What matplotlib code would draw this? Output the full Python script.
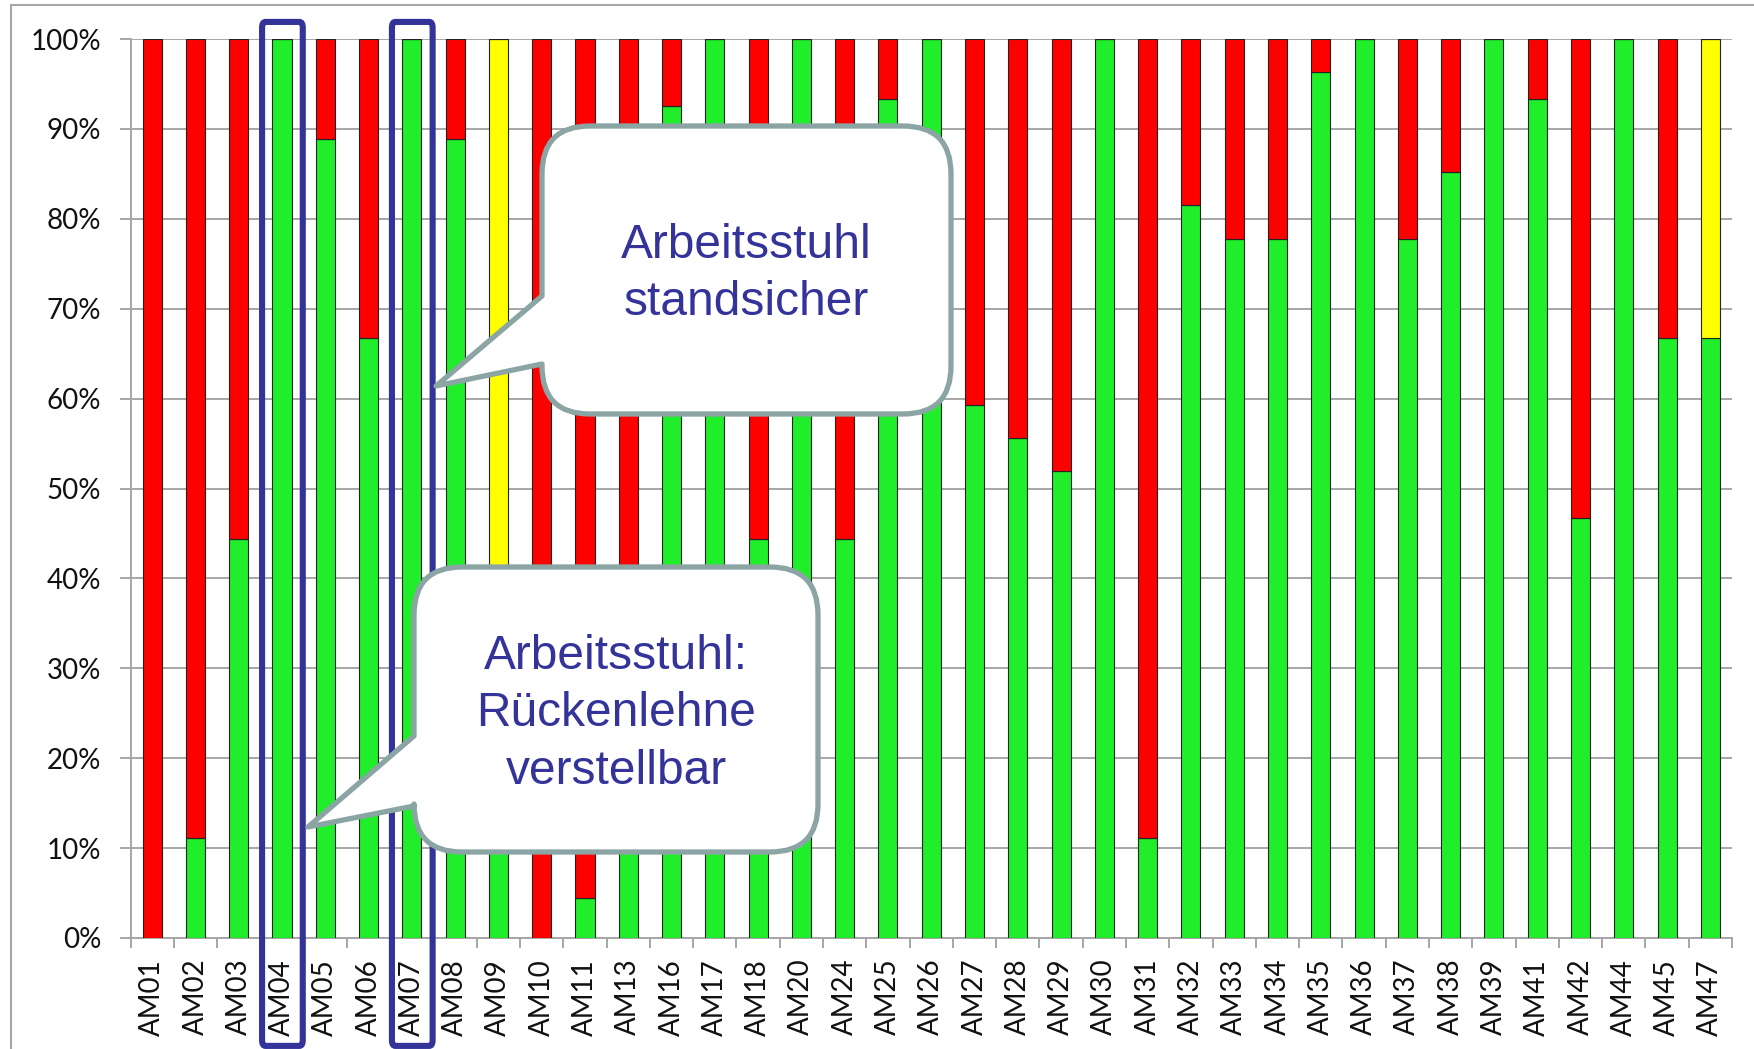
import numpy as np
import matplotlib
matplotlib.use("Agg")
import matplotlib.pyplot as plt
from matplotlib.path import Path
from matplotlib.patches import PathPatch, FancyBboxPatch, Rectangle
from matplotlib.transforms import Affine2D

# ── Daten ────────────────────────────────────────────────────
categories = ["AM01", "AM02", "AM03", "AM04", "AM05", "AM06", "AM07", "AM08",
              "AM09", "AM10", "AM11", "AM13", "AM16", "AM17", "AM18", "AM20",
              "AM24", "AM25", "AM26", "AM27", "AM28", "AM29", "AM30", "AM31",
              "AM32", "AM33", "AM34", "AM35", "AM36", "AM37", "AM38", "AM39",
              "AM41", "AM42", "AM44", "AM45", "AM47"]

green = [0, 11.1, 44.4, 100, 88.9, 66.7, 100, 88.9,
         33.3, 0, 4.5, 33.3, 92.6, 100, 44.4, 100,
         44.4, 93.3, 100, 59.3, 55.6, 51.9, 100, 11.1,
         81.5, 77.8, 77.8, 96.3, 100, 77.8, 85.2, 100,
         93.3, 46.7, 100, 66.7, 66.7]

yellow = [0, 0, 0, 0, 0, 0, 0, 0,
          66.7, 0, 0, 0, 0, 0, 0, 0,
          0, 0, 0, 0, 0, 0, 0, 0,
          0, 0, 0, 0, 0, 0, 0, 0,
          0, 0, 0, 0, 33.3]

red = [100, 88.9, 55.6, 0, 11.1, 33.3, 0, 11.1,
       0, 100, 95.5, 66.7, 7.4, 0, 55.6, 0,
       55.6, 6.7, 0, 40.7, 44.4, 48.1, 0, 88.9,
       18.5, 22.2, 22.2, 3.7, 0, 22.2, 14.8, 0,
       6.7, 53.3, 0, 33.3, 0]

highlighted = ["AM04", "AM07"]

y_ticks = [0, 10, 20, 30, 40, 50, 60, 70, 80, 90, 100]

# ── Figur ────────────────────────────────────────────────────
W, H = 1754, 1049
fig = plt.figure(figsize=(W / 100, H / 100), dpi=100)
ax = fig.add_axes([130.5 / W, 1 - 938 / H, (1732 - 130.5) / W, (938 - 39) / H])

x = np.arange(len(categories))
g = np.array(green)
yl = np.array(yellow)
r = np.array(red)

C_GREEN = "#21EE2B"
C_YELLOW = "#FFFF00"
C_RED = "#FF0000"
bw = 0.44
ax.bar(x, g, bw, color=C_GREEN, edgecolor="#222222", linewidth=0.8, zorder=3)
ax.bar(x, yl, bw, bottom=g, color=C_YELLOW, edgecolor="#222222", linewidth=0.8, zorder=3)
ax.bar(x, r, bw, bottom=g + yl, color=C_RED, edgecolor="#222222", linewidth=0.8, zorder=3)

ax.set_xlim(-0.5, len(categories) - 0.5)
ax.set_ylim(0, 100)
ax.set_yticks(y_ticks)
ax.set_yticklabels([f"{v}%" for v in y_ticks])
ax.set_xticks(x)
ax.set_xticklabels(categories, rotation=90)
ax.set_xticks(np.arange(-0.5, len(categories), 1), minor=True)

ax.grid(axis="y", color="#A6A6A6", linewidth=1.4, zorder=0)
ax.set_axisbelow(True)
for s in ["top", "right"]:
    ax.spines[s].set_visible(False)
for s in ["left", "bottom"]:
    ax.spines[s].set_color("#A6A6A6")
    ax.spines[s].set_linewidth(1.4)

font = ["Lato", "DejaVu Sans"]
ax.tick_params(axis="y", direction="out", length=8, width=1.4, color="#A6A6A6",
               pad=13, labelsize=20, labelcolor="#111111")
ax.tick_params(axis="x", which="major", length=0, pad=15, labelsize=20,
               labelcolor="#111111")
ax.tick_params(axis="x", which="minor", direction="out", length=7, width=1.4,
               color="#A6A6A6")
for lab in ax.get_xticklabels() + ax.get_yticklabels():
    lab.set_family(font)

# Rahmen um die Grafik
fig.patches.append(Rectangle((11 / W, -0.1), 1.2, 1 - 5 / H + 0.1,
                             transform=fig.transFigure, fill=False,
                             edgecolor="#A6A6A6", linewidth=1.5, zorder=0))

# blaue Markierungen
for name in highlighted:
    i = categories.index(name)
    box = FancyBboxPatch((i - 0.46, -12), 0.94, 113.9,
                         boxstyle="round,pad=0,rounding_size=0.08",
                         mutation_aspect=8,
                         fill=False, edgecolor="#333399", linewidth=4.4,
                         clip_on=False, zorder=5)
    ax.add_patch(box)

# Sprechblasen (Pixelkoordinaten, y nach unten)
px = Affine2D().scale(1 / W, -1 / H).translate(0, 1) + fig.transFigure


def callout(x0, y0, x1, y1, rad, b1, b2, tip):
    verts = [(x0 + rad, y0), (x1 - rad, y0), (x1, y0), (x1, y0 + rad),
             (x1, y1 - rad), (x1, y1), (x1 - rad, y1),
             (x0 + rad, y1), (x0, y1), (x0, y1 - rad),
             (x0, b2), tip, (x0, b1),
             (x0, y0 + rad), (x0, y0), (x0 + rad, y0), (x0 + rad, y0)]
    codes = [Path.MOVETO, Path.LINETO, Path.CURVE3, Path.CURVE3,
             Path.LINETO, Path.CURVE3, Path.CURVE3,
             Path.LINETO, Path.CURVE3, Path.CURVE3,
             Path.LINETO, Path.LINETO, Path.LINETO,
             Path.LINETO, Path.CURVE3, Path.CURVE3, Path.CLOSEPOLY]
    p = PathPatch(Path(verts, codes), transform=px, facecolor="white",
                  edgecolor="#8BA4A4", linewidth=3.8, joinstyle="round", zorder=6)
    fig.patches.append(p)


callout(542, 126, 951, 414, 48, 296, 364, (436, 386))
callout(414, 567, 818, 852, 48, 736, 806, (308, 827))

txt_kw = dict(transform=px, ha="center", va="center", color="#333399",
              fontsize=34.5, family=["Liberation Sans", "DejaVu Sans"],
              linespacing=1.36, zorder=7)
fig.text(746, 274, "Arbeitsstuhl\nstandsicher", **txt_kw)
fig.text(616, 714, "Arbeitsstuhl:\nRückenlehne\nverstellbar", **txt_kw)

fig.savefig("out.png", dpi=100)
